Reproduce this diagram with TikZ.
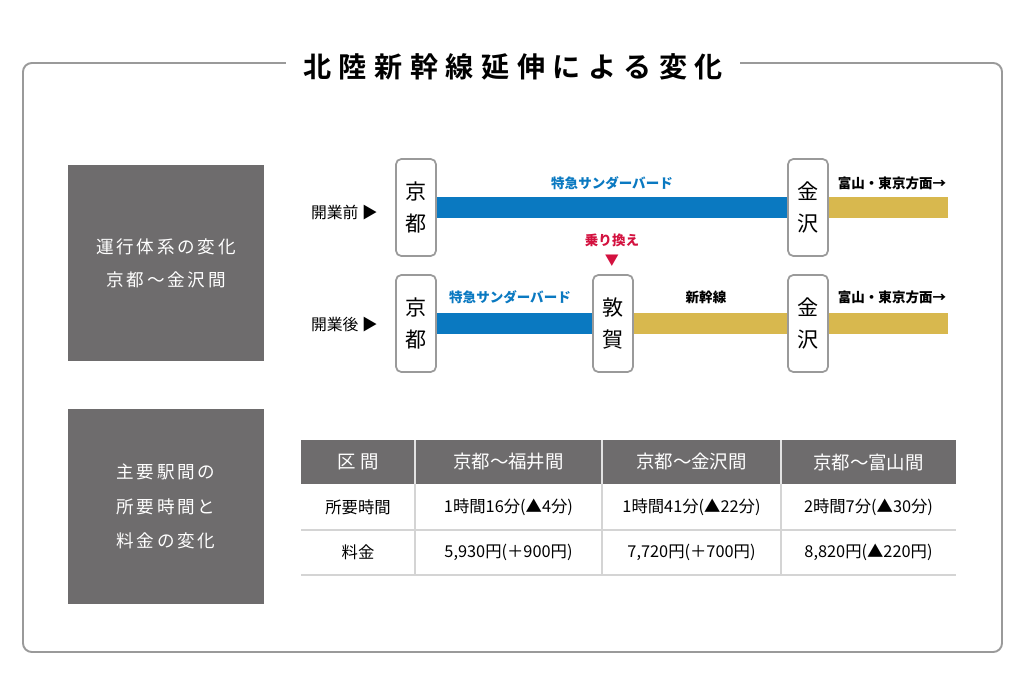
\documentclass[tikz,border=0pt]{standalone}
\usepackage{fontspec}
\setmainfont{Noto Sans CJK JP}
\newfontfamily\titlefont[LetterSpace=27]{Noto Sans CJK JP Bold}
\newfontfamily\panelfont[LetterSpace=16]{Noto Sans CJK JP}
\usetikzlibrary{positioning, calc}
\definecolor{panelgray}{HTML}{6E6C6D}
\definecolor{framegray}{HTML}{9A9A9A}
\definecolor{linegray}{HTML}{D4D4D4}
\definecolor{ltdblue}{HTML}{0A79C1}
\definecolor{shingold}{HTML}{D8B84E}
\definecolor{transred}{HTML}{D3113F}

\tikzset{
  panel/.style={fill=panelgray, text=white, align=center, inner sep=0pt,
    minimum width=3.92cm, minimum height=3.92cm},
  station/.style={draw=framegray, line width=1pt, rounded corners=3pt, fill=white,
    minimum width=0.8cm, minimum height=1.94cm, inner sep=0pt, align=center,
    font=\fontsize{12}{18}\selectfont},
  bar/.style={line width=12.5pt},
  small/.style={font=\bfseries\fontsize{7.7}{8}\selectfont},
}

\begin{document}
\begin{tikzpicture}[x=0.02cm, y=-0.02cm]
      \useasboundingbox (0,0) rectangle (1024,683);

      % frame and title
      \draw[framegray, line width=1.1pt, rounded corners=5pt] (23,63) rectangle (1002,652);
      \node[fill=white, minimum width=9.1cm, inner sep=2pt, font=\fontsize{16}{18}\titlefont] (title) at (513,67) {北陸新幹線延伸による変化};

      % left panels
      \node[panel, font=\panelfont\fontsize{10}{18.7}\selectfont] (sys) at (166,263) {運行体系の変化\\京都～金沢間};
      \node[panel, font=\panelfont\fontsize{10}{19.8}\selectfont] (fare) at (166,506.5) {主要駅間の\\所要時間と\\料金の変化};

      % before opening
      \node[station] (kyoto1) at (416,207.5) {京\\都};
      \node[station] (kanaz1) at (808,207.5) {金\\沢};
      \coordinate (end1) at ($(kanaz1)+(140,0)$);
      \draw[bar, ltdblue] (kyoto1) -- (kanaz1);
      \draw[bar, shingold] (kanaz1) -- (end1);
      \node[small, ltdblue] (tb1) at (612,183) {特急サンダーバード};
      \node[small] (dir1) at (892,183) {富山・東京方面→};
      \node[anchor=east, font=\fontsize{9}{10}\selectfont] (before) at (384,213) {開業前\ ▶};

      % after opening
      \node[station] (kyoto2) at (416,323.5) {京\\都};
      \node[station] (tsuru2) at (613,323.5) {敦\\賀};
      \node[station] (kanaz2) at (808,323.5) {金\\沢};
      \coordinate (end2) at ($(kanaz2)+(140,0)$);
      \draw[bar, ltdblue] (kyoto2) -- (tsuru2);
      \draw[bar, shingold] (tsuru2) -- (kanaz2);
      \draw[bar, shingold] (kanaz2) -- (end2);
      \node[small, ltdblue] (tb2) at (510,297) {特急サンダーバード};
      \node[small] (shin2) at (706,297) {新幹線};
      \node[small] (dir2) at (892,297) {富山・東京方面→};
      \node[anchor=east, font=\fontsize{9}{10}\selectfont] (after) at (384,325) {開業後\ ▶};
      \node[small, transred] (xfer) at (612,240) {乗り換え};
      \node[transred, font=\fontsize{8}{8}\selectfont, inner sep=0pt] (xmark) at (612,261) {▼};

      % table
      \fill[panelgray] (301,440) rectangle (956,484);
      \foreach \x in {415,602,781} {
        \draw[white!80!panelgray, line width=0.8pt] (\x,440) -- (\x,484);
        \draw[linegray, line width=0.8pt] (\x,484) -- (\x,575);
      }
      \draw[linegray, line width=1pt] (301,530) -- (956,530);
      \draw[linegray, line width=1pt] (301,575) -- (956,575);
      \foreach \x/\n/\h/\t/\f in {358/0/区\ 間/所要時間/料金,
          508.5/1/京都～福井間/1時間16分(▲4分)/{5,930円(＋900円)},
          691.5/2/京都～金沢間/1時間41分(▲22分)/{7,720円(＋700円)},
          868.5/3/京都～富山間/2時間7分(▲30分)/{8,820円(▲220円)}} {
        \node[text=white, font=\fontsize{10.5}{12}\selectfont] (head\n) at (\x,462) {\h};
        \node[font=\fontsize{9.3}{11}\selectfont] (time\n) at (\x,507) {\t};
        \node[font=\fontsize{9.3}{11}\selectfont] (cost\n) at (\x,552) {\f};
      }

    \end{tikzpicture}
\end{document}
